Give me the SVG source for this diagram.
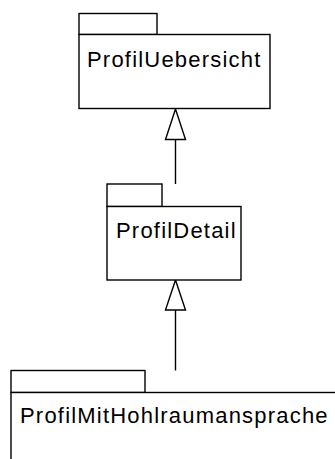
<svg xmlns="http://www.w3.org/2000/svg" width="335" height="459" viewBox="0 0 335 459">
<style>
.pk{fill:#fff;stroke:#000;stroke-width:1.4}
.lbl{font-family:"Liberation Sans",Arial,sans-serif;font-size:22px;letter-spacing:1.2px;fill:#000}
.ln{stroke:#000;stroke-width:1.4;fill:none}
.hd{fill:#fff;stroke:#000;stroke-width:1.4}
</style>
<rect width="335" height="459" fill="#fff"/>
<g id="connectors">
<line class="ln" x1="175.5" y1="184" x2="175.5" y2="139.5"/>
<polygon class="hd" points="175.5,109 165.5,139.5 185.5,139.5"/>
<line class="ln" x1="175.5" y1="370.5" x2="175.5" y2="310"/>
<polygon class="hd" points="175.5,280 165.5,310 185.5,310"/>
</g>
<g id="ProfilUebersicht">
<rect class="pk" x="79" y="13.5" width="78" height="21"/>
<rect class="pk" x="79" y="34.5" width="191" height="74"/>
<text class="lbl" x="87" y="67">ProfilUebersicht</text>
</g>
<g id="ProfilDetail">
<rect class="pk" x="107" y="184" width="55" height="22.5"/>
<rect class="pk" x="107" y="206.5" width="134" height="73.5"/>
<text class="lbl" x="116" y="238">ProfilDetail</text>
</g>
<g id="ProfilMitHohlraumansprache">
<rect class="pk" x="11" y="370.5" width="134" height="22"/>
<rect class="pk" x="11" y="392.5" width="340" height="80"/>
<text class="lbl" x="20" y="423">ProfilMitHohlraumansprache</text>
</g>
</svg>
